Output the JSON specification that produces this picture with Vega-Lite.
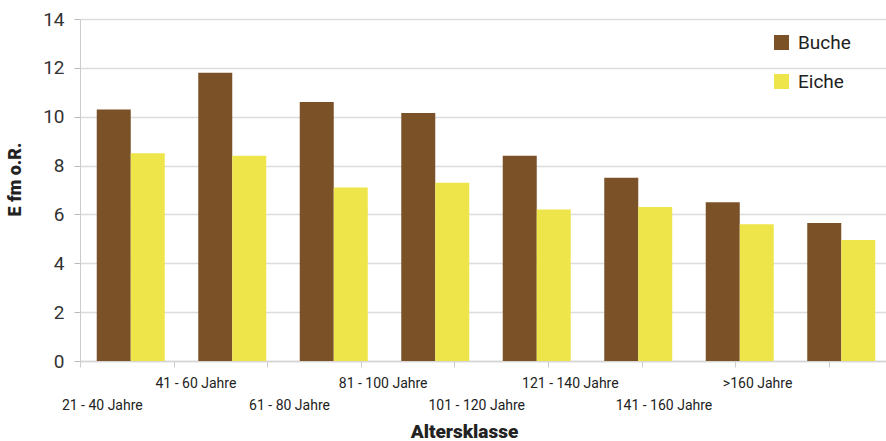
{
  "$schema": "https://vega.github.io/schema/vega-lite/v6.json",
  "width": 812,
  "height": 342,
  "autosize": {"type": "none"},
  "padding": {"left": 80, "top": 19, "right": 0, "bottom": 80},
  "background": "white",
  "config": {
    "font": "Roboto",
    "view": {"stroke": null}
  },
  "data": {
    "values": [
      {"Altersklasse": "21 - 40 Jahre", "Baumart": "Buche", "Wert": 10.3},
      {"Altersklasse": "21 - 40 Jahre", "Baumart": "Eiche", "Wert": 8.5},
      {"Altersklasse": "41 - 60 Jahre", "Baumart": "Buche", "Wert": 11.8},
      {"Altersklasse": "41 - 60 Jahre", "Baumart": "Eiche", "Wert": 8.4},
      {"Altersklasse": "61 - 80 Jahre", "Baumart": "Buche", "Wert": 10.6},
      {"Altersklasse": "61 - 80 Jahre", "Baumart": "Eiche", "Wert": 7.1},
      {"Altersklasse": "81 - 100 Jahre", "Baumart": "Buche", "Wert": 10.15},
      {"Altersklasse": "81 - 100 Jahre", "Baumart": "Eiche", "Wert": 7.3},
      {"Altersklasse": "101 - 120 Jahre", "Baumart": "Buche", "Wert": 8.4},
      {"Altersklasse": "101 - 120 Jahre", "Baumart": "Eiche", "Wert": 6.2},
      {"Altersklasse": "121 - 140 Jahre", "Baumart": "Buche", "Wert": 7.5},
      {"Altersklasse": "121 - 140 Jahre", "Baumart": "Eiche", "Wert": 6.3},
      {"Altersklasse": "141 - 160 Jahre", "Baumart": "Buche", "Wert": 6.5},
      {"Altersklasse": "141 - 160 Jahre", "Baumart": "Eiche", "Wert": 5.6},
      {"Altersklasse": ">160 Jahre", "Baumart": "Buche", "Wert": 5.65},
      {"Altersklasse": ">160 Jahre", "Baumart": "Eiche", "Wert": 4.95}
    ]
  },
  "layer": [
    {
      "mark": {"type": "bar"},
      "encoding": {
        "x": {
          "field": "Altersklasse",
          "type": "nominal",
          "sort": null,
          "scale": {"paddingInner": 0.33, "paddingOuter": 0.165},
          "axis": null
        },
        "xOffset": {"field": "Baumart", "type": "nominal", "sort": ["Buche", "Eiche"]},
        "y": {
          "field": "Wert",
          "type": "quantitative",
          "scale": {"domain": [0, 14], "nice": false},
          "axis": {
            "title": "E fm o.R.",
            "titleFont": "Roboto",
            "titleFontWeight": 900,
            "titleFontSize": 18,
            "titleColor": "#222",
            "titlePadding": 18,
            "titleY": 160,
            "values": [0, 2, 4, 6, 8, 10, 12, 14],
            "labelFontSize": 19,
            "labelColor": "#333",
            "labelPadding": 10,
            "tickColor": "#bbb",
            "tickSize": 6,
            "domainColor": "#ccc",
            "gridColor": "#dcdcdc",
            "gridWidth": 1.5
          }
        },
        "color": {
          "field": "Baumart",
          "type": "nominal",
          "scale": {"domain": ["Buche", "Eiche"], "range": ["#7b5128", "#eee54a"]},
          "legend": {
            "title": null,
            "orient": "none",
            "legendX": 692,
            "legendY": 14,
            "symbolType": "square",
            "symbolSize": 225,
            "symbolStrokeWidth": 0,
            "labelFontSize": 19,
            "labelColor": "#222",
            "labelOffset": 7,
            "rowPadding": 19
          }
        }
      }
    },
    {
      "mark": {"type": "rule", "opacity": 0},
      "encoding": {
        "x": {
          "field": "Altersklasse",
          "type": "nominal",
          "sort": null,
          "scale": {"paddingInner": 0, "paddingOuter": 0.337, "align": 0},
          "axis": {
            "title": "Altersklasse",
            "titleFont": "Roboto",
            "titleFontWeight": 900,
            "titleFontSize": 19,
            "titleColor": "#222",
            "titleX": 384,
            "titlePadding": 10,
            "labelExpr": "indexof(['41 - 60 Jahre', '81 - 100 Jahre', '121 - 140 Jahre', '>160 Jahre'], datum.value) >= 0 ? datum.value : ['', datum.value]",
            "labelAngle": 0,
            "labelFontSize": 14,
            "labelColor": "#222",
            "labelLineHeight": 22,
            "labelBaseline": "top",
            "labelOverlap": false,
            "labelBound": false,
            "labelOffset": -25,
            "labelPadding": 9,
            "tickBand": "extent",
            "tickColor": "#ccc",
            "tickSize": 6,
            "domainColor": "#d5d5d5",
            "domainWidth": 1.5
          }
        }
      }
    }
  ],
  "resolve": {"scale": {"x": "independent"}}
}
